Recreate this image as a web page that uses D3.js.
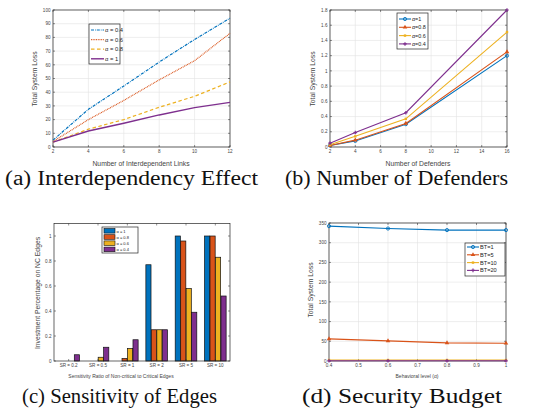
<!DOCTYPE html>
<html>
<head>
<meta charset="utf-8">
<script src="https://cdn.jsdelivr.net/npm/d3@7"></script>
<style>
  body { margin: 0; background: #fff; }
  text { font-family: "Liberation Sans", Arial, sans-serif; }
  .cap { font-family: "Liberation Serif", "DejaVu Serif", serif; fill: #111; }
</style>
</head>
<body>
<svg width="537" height="408"></svg>
<script>
// colours as matlab defaults
const blue = "#0072BD", red = "#D95319", yellow = "#EDB120", purple = "#7E2F8E";

// (a) interdependency effect
const linksX = [2, 4, 6, 8, 10, 12];
const lossA04 = [5, 27.5, 44.5, 62, 78.5, 94];
const lossA06 = [4, 20, 34, 49, 63, 83];
const lossA08 = [3.5, 13, 20, 29, 37, 47.5];
const lossA1 = [3.5, 11.7, 17.3, 23.4, 28.7, 32.6];

// (b) number of defenders
const defendersX = [2, 4, 8, 16];
const lossB1 = [0.02, 0.08, 0.30, 1.20];
const lossB08 = [0.02, 0.09, 0.31, 1.25];
const lossB06 = [0.03, 0.14, 0.37, 1.51];
const lossB04 = [0.05, 0.19, 0.45, 1.80];

// (c) sensitivity of edges
const srCats = ["SR = 0.2", "SR = 0.5", "SR = 1", "SR = 2", "SR = 5", "SR = 10"];
const invA1 = [0, 0, 0, 0.77, 1, 1];
const invA08 = [0, 0, 0.02, 0.25, 0.96, 1];
const invA06 = [0, 0.03, 0.10, 0.25, 0.58, 0.83];
const invA04 = [0.05, 0.11, 0.17, 0.25, 0.39, 0.52];

// (d) security budget
const alphaX = [0.4, 0.6, 0.8, 1];
const lossBT1 = [342, 336, 332, 332];
const lossBT5 = [56, 51, 46, 45];
const lossBT10 = [2.5, 2.5, 2.5, 2.5];
const lossBT20 = [0.5, 0.5, 0.5, 0.5];

var svg = d3.select("svg");
const axisCol = "#262626";

// frame, grid and inward ticks like matlab
function frame(g, x, y, xTicks, yTicks, opts) {
  var x0 = x.range()[0], x1 = x.range()[1], y0 = y.range()[0], y1 = y.range()[1];
  if (opts.grid) {
    g.selectAll(".gx").data(xTicks).enter().append("line")
      .attr("x1", d => x(d)).attr("x2", d => x(d)).attr("y1", y0).attr("y2", y1)
      .attr("stroke", "#e3e3e3").attr("stroke-width", 0.6);
    g.selectAll(".gy").data(yTicks).enter().append("line")
      .attr("y1", d => y(d)).attr("y2", d => y(d)).attr("x1", x0).attr("x2", x1)
      .attr("stroke", "#e3e3e3").attr("stroke-width", 0.6);
  }
  var t = 2;
  xTicks.forEach(d => {
    g.append("line").attr("x1", x(d)).attr("x2", x(d)).attr("y1", y0).attr("y2", y0 - t).attr("stroke", axisCol).attr("stroke-width", 0.5);
    g.append("line").attr("x1", x(d)).attr("x2", x(d)).attr("y1", y1).attr("y2", y1 + t).attr("stroke", axisCol).attr("stroke-width", 0.5);
  });
  yTicks.forEach(d => {
    g.append("line").attr("y1", y(d)).attr("y2", y(d)).attr("x1", x0).attr("x2", x0 + t).attr("stroke", axisCol).attr("stroke-width", 0.5);
    g.append("line").attr("y1", y(d)).attr("y2", y(d)).attr("x1", x1).attr("x2", x1 - t).attr("stroke", axisCol).attr("stroke-width", 0.5);
  });
  g.append("rect").attr("x", x0).attr("y", y1).attr("width", x1 - x0).attr("height", y0 - y1)
    .attr("fill", "none").attr("stroke", axisCol).attr("stroke-width", 0.7);
  g.selectAll(".xl").data(xTicks).enter().append("text")
    .attr("x", d => x(d)).attr("y", y0 + 6).attr("text-anchor", "middle")
    .attr("font-size", opts.tickSize || 5).attr("fill", "#444").text(opts.xFmt || (d => d));
  g.selectAll(".yl").data(yTicks).enter().append("text")
    .attr("x", x0 - 2.5).attr("y", d => y(d) + 1.7).attr("text-anchor", "end")
    .attr("font-size", opts.tickSize || 5).attr("fill", "#444").text(opts.yFmt || (d => d));
}

function labels(g, cx, xy, xText, yx, cy, yText, xs, ys) {
  g.append("text").attr("x", cx).attr("y", xy).attr("text-anchor", "middle")
    .attr("font-size", xs).attr("fill", "#444").text(xText);
  g.append("text").attr("transform", "translate(" + yx + "," + cy + ") rotate(-90)")
    .attr("text-anchor", "middle").attr("font-size", ys).attr("fill", "#444").text(yText);
}

function marker(g, type, px, py, col) {
  if (type == "circle") {
    g.append("circle").attr("cx", px).attr("cy", py).attr("r", 1.6).attr("fill", "none").attr("stroke", col).attr("stroke-width", 0.9);
  } else if (type == "tri") {
    g.append("path").attr("d", d3.symbol(d3.symbolTriangle, 9)()).attr("transform", "translate(" + px + "," + py + ")").attr("fill", col);
  } else if (type == "square") {
    g.append("rect").attr("x", px - 1.2).attr("y", py - 1.2).attr("width", 2.4).attr("height", 2.4).attr("fill", col);
  } else {
    g.append("path").attr("d", d3.symbol(d3.symbolCross, 7)()).attr("transform", "translate(" + px + "," + py + ")").attr("fill", col);
  }
}

function legendBox(g, x, y, w, h) {
  g.append("rect").attr("x", x).attr("y", y).attr("width", w).attr("height", h)
    .attr("fill", "#fff").attr("stroke", axisCol).attr("stroke-width", 0.7);
}

// ---------- panel (a)
var ga = svg.append("g");
var xa = d3.scaleLinear().domain([2, 12]).range([53, 230]);
var ya = d3.scaleLinear().domain([0, 100]).range([147, 10]);
frame(ga, xa, ya, d3.range(2, 13, 2), d3.range(0, 101, 10), {grid: true, tickSize: 4.6});
var seriesA = [
  {name: "\u03b1 = 0.4", v: lossA04, col: blue, dash: "3,1,0.8,1", w: 1.2},
  {name: "\u03b1 = 0.6", v: lossA06, col: red, dash: "0.9,0.8", w: 1.2},
  {name: "\u03b1 = 0.8", v: lossA08, col: yellow, dash: "3.5,2.5", w: 1.2},
  {name: "\u03b1 = 1", v: lossA1, col: purple, dash: null, w: 1.4}
];
var lineA = d3.line().x((d, i) => xa(linksX[i])).y(d => ya(d));
seriesA.forEach(s => {
  ga.append("path").attr("d", lineA(s.v)).attr("fill", "none").attr("stroke", s.col)
    .attr("stroke-width", s.w).attr("stroke-dasharray", s.dash);
});
legendBox(ga, 89, 24, 31, 40);
seriesA.forEach((s, i) => {
  var yy = 30 + i * 9.6;
  ga.append("line").attr("x1", 91).attr("x2", 104).attr("y1", yy).attr("y2", yy)
    .attr("stroke", s.col).attr("stroke-width", s.w).attr("stroke-dasharray", s.dash);
  ga.append("text").attr("x", 105).attr("y", yy + 2).attr("font-size", 5.8).attr("fill", "#222").text(s.name);
});
labels(ga, 141, 166, "Number of Interdependent Links", 37, 79, "Total System Loss", 6.8, 6.8);

// ---------- panel (b)
var gb = svg.append("g");
var xb = d3.scaleLinear().domain([2, 16]).range([330, 507]);
var yb = d3.scaleLinear().domain([0, 1.8]).range([147, 10]);
frame(gb, xb, yb, d3.range(2, 17, 2), d3.range(0, 1.81, 0.2).map(d => +d.toFixed(1)), {grid: true, tickSize: 4.6});
var seriesB = [
  {name: "\u03b1=1", v: lossB1, col: blue, m: "circle"},
  {name: "\u03b1=0.8", v: lossB08, col: red, m: "tri"},
  {name: "\u03b1=0.6", v: lossB06, col: yellow, m: "square"},
  {name: "\u03b1=0.4", v: lossB04, col: purple, m: "cross"}
];
var lineB = d3.line().x((d, i) => xb(defendersX[i])).y(d => yb(d));
seriesB.forEach(s => {
  gb.append("path").attr("d", lineB(s.v)).attr("fill", "none").attr("stroke", s.col).attr("stroke-width", 1.1);
  s.v.forEach((d, i) => marker(gb, s.m, xb(defendersX[i]), yb(d), s.col));
});
legendBox(gb, 397, 13, 31, 36);
seriesB.forEach((s, i) => {
  var yy = 19 + i * 8.3;
  gb.append("line").attr("x1", 399).attr("x2", 411).attr("y1", yy).attr("y2", yy).attr("stroke", s.col).attr("stroke-width", 1.1);
  marker(gb, s.m, 405, yy, s.col);
  gb.append("text").attr("x", 412).attr("y", yy + 1.9).attr("font-size", 5.4).attr("fill", "#222").text(s.name);
});
labels(gb, 418, 166, "Number of Defenders", 315, 79, "Total System Loss", 6.8, 6.8);

// ---------- panel (c)
var gc = svg.append("g");
var xc = d3.scaleBand().domain(srCats).range([54, 230]);
var yc = d3.scaleLinear().domain([0, 1.1]).range([361, 223.5]);
var seriesC = [
  {name: "\u03b1 = 1", v: invA1, col: blue},
  {name: "\u03b1 = 0.8", v: invA08, col: red},
  {name: "\u03b1 = 0.6", v: invA06, col: yellow},
  {name: "\u03b1 = 0.4", v: invA04, col: purple}
];
var inner = d3.scaleBand().domain(d3.range(4)).range([-10.8, 10.8]).paddingInner(0.06);
// bars first, frame drawn on top
seriesC.forEach((s, k) => {
  gc.selectAll(".b" + k).data(s.v).enter().append("rect")
    .attr("x", (d, i) => xc(srCats[i]) + xc.bandwidth() / 2 + inner(k))
    .attr("width", inner.bandwidth())
    .attr("y", d => yc(d)).attr("height", d => yc(0) - yc(d))
    .attr("fill", s.col).attr("stroke", "#111").attr("stroke-width", 0.7);
});
frame(gc, {range: () => [54, 230]}, yc, [], [0, 0.2, 0.4, 0.6, 0.8, 1], {grid: false, tickSize: 4.6});
srCats.forEach((c, i) => {
  var px = xc(c) + xc.bandwidth() / 2;
  gc.append("line").attr("x1", px).attr("x2", px).attr("y1", 361).attr("y2", 359).attr("stroke", axisCol).attr("stroke-width", 0.5);
  gc.append("line").attr("x1", px).attr("x2", px).attr("y1", 223.5).attr("y2", 225.5).attr("stroke", axisCol).attr("stroke-width", 0.5);
  gc.append("text").attr("x", px).attr("y", 367).attr("text-anchor", "middle").attr("font-size", 4.6).attr("fill", "#444").text(c);
});
legendBox(gc, 102, 227, 36, 26);
seriesC.forEach((s, i) => {
  var yy = 228.5 + i * 6.2;
  gc.append("rect").attr("x", 104).attr("y", yy).attr("width", 11).attr("height", 4.6)
    .attr("fill", s.col).attr("stroke", "#111").attr("stroke-width", 0.6);
  gc.append("text").attr("x", 116.5).attr("y", yy + 4).attr("font-size", 4).attr("fill", "#222").text(s.name);
});
labels(gc, 121, 378, "Sensitivity Ratio of Non-critical to Critical Edges", 40, 293, "Investment Percentage on NC Edges", 5, 6.8);

// ---------- panel (d)
var gd = svg.append("g");
var xd = d3.scaleLinear().domain([0.4, 1]).range([329, 506]);
var yd = d3.scaleLinear().domain([0, 350]).range([361, 223]);
frame(gd, xd, yd, [0.4, 0.5, 0.6, 0.7, 0.8, 0.9, 1], d3.range(0, 351, 50), {grid: true, tickSize: 4.6});
var seriesD = [
  {name: "BT=1", v: lossBT1, col: blue, m: "circle"},
  {name: "BT=5", v: lossBT5, col: red, m: "tri"},
  {name: "BT=10", v: lossBT10, col: yellow, m: "square"},
  {name: "BT=20", v: lossBT20, col: purple, m: "cross"}
];
var lineD = d3.line().x((d, i) => xd(alphaX[i])).y(d => yd(d));
seriesD.forEach(s => {
  gd.append("path").attr("d", lineD(s.v)).attr("fill", "none").attr("stroke", s.col).attr("stroke-width", 1.1);
  s.v.forEach((d, i) => marker(gd, s.m, xd(alphaX[i]), yd(d), s.col));
});
legendBox(gd, 465, 243, 40, 33);
seriesD.forEach((s, i) => {
  var yy = 247 + i * 7.8;
  gd.append("line").attr("x1", 467).attr("x2", 479).attr("y1", yy).attr("y2", yy).attr("stroke", s.col).attr("stroke-width", 1.1);
  marker(gd, s.m, 473, yy, s.col);
  gd.append("text").attr("x", 480).attr("y", yy + 2).attr("font-size", 5.6).attr("fill", "#222").text(s.name);
});
labels(gd, 417, 378, "Behavioral level (\u03b1)", 313, 290, "Total System Loss", 5, 6.8);

// ---------- captions
var caps = [
  {t: "(a) Interdependency Effect", x: 131.5, y: 185, w: 253},
  {t: "(b) Number of Defenders", x: 396.5, y: 185, w: 223},
  {t: "(c) Sensitivity of Edges", x: 119.5, y: 402.5, w: 195},
  {t: "(d) Security Budget", x: 402, y: 402.5, w: 200}
];
svg.selectAll(".cap").data(caps).enter().append("text").attr("class", "cap")
  .attr("x", d => d.x).attr("y", d => d.y).attr("text-anchor", "middle")
  .attr("font-size", 20).attr("textLength", d => d.w).attr("lengthAdjust", "spacingAndGlyphs")
  .text(d => d.t);
</script>
</body>
</html>
